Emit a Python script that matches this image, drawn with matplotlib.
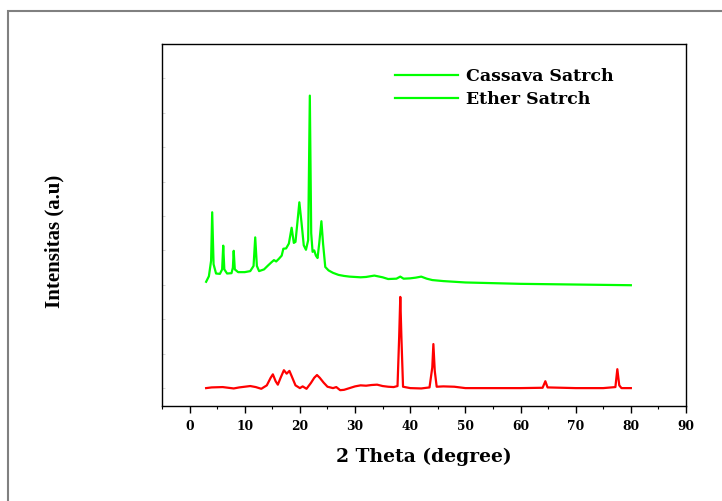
import matplotlib
matplotlib.use("Agg")
import matplotlib.pyplot as plt
from matplotlib.lines import Line2D
from matplotlib.patches import Rectangle

# green pattern
green_x = [3.0, 3.5, 3.9, 4.1, 4.35, 4.8, 5.5, 5.9, 6.1, 6.3, 6.8, 7.6, 7.85, 8.0, 8.2, 8.8,
           10, 11, 11.6, 11.9, 12.2, 12.6, 13.5, 14.2, 14.8, 15.3, 15.7, 16.2, 16.7, 17.0,
           17.5, 18.0, 18.5, 18.9, 19.2, 19.6, 19.9, 20.3, 20.7, 21.1, 21.5, 21.8, 22.05,
           22.3, 22.6, 22.9, 23.2, 23.5, 23.9, 24.2, 24.6, 25.2, 26, 27, 28, 29, 30, 31, 32,
           33.5, 35, 36, 37.5, 38.2, 38.8, 40, 41, 42, 43, 44, 46, 50, 55, 60, 65, 70, 75, 80]
green_y = [3090, 3250, 3700, 5110, 3600, 3330, 3320, 3450, 4140, 3450, 3330, 3340, 3500, 3990,
           3450, 3370, 3370, 3400, 3550, 4380, 3550, 3400, 3450, 3560, 3650, 3720, 3680, 3760,
           3850, 4050, 4060, 4200, 4660, 4220, 4250, 4900, 5400, 4800, 4150, 4020, 4300, 8500,
           4500, 3960, 4000, 3850, 3780, 4200, 4850, 4200, 3520, 3420, 3350, 3290, 3260, 3240,
           3230, 3220, 3230, 3270, 3220, 3170, 3180, 3240, 3180, 3190, 3210, 3240, 3180, 3140,
           3110, 3070, 3050, 3030, 3020, 3010, 3000, 2990]

# red pattern
red_x = [3.0, 4, 6, 8, 9, 10, 11, 12, 13, 14, 14.7, 15.1, 15.6, 16.0, 16.5, 17.1, 17.6, 18.1,
         18.5, 19.2, 20, 20.5, 21.2, 22, 22.6, 23.1, 23.6, 24.3, 25, 26, 26.6, 27.3, 28, 29,
         30, 31, 32, 33, 34, 35, 36, 37, 37.7, 38.0, 38.2, 38.4, 38.7, 40, 42, 43.5, 44.0,
         44.2, 44.45, 44.8, 46, 48, 50, 55, 60, 64, 64.5, 64.9, 70, 75, 77.2, 77.55, 77.9,
         78.3, 80]
red_y = [0, 20, 30, -10, 20, 40, 60, 30, -20, 80, 300, 400, 200, 100, 300, 520, 420, 500, 350,
         80, 0, 50, -20, 150, 300, 380, 300, 160, 40, 0, 30, -60, -50, 0, 50, 80, 70, 90, 100,
         60, 40, 30, 60, 1500, 2650, 1500, 40, 0, -10, 20, 600, 1280, 500, 40, 50, 40, 0, 0, 0,
         10, 200, 20, 0, 0, 30, 550, 80, 0, 0]

legend_labels = ["Cassava Satrch", "Ether Satrch"]

wide = "DejaVu Serif"        # the picture's lettering is stretched sideways
narrow = "Liberation Serif"

fig = plt.figure(figsize=(7.22, 5.01), dpi=100)
# grey frame around the picture
fig.patches.append(Rectangle((8 / 722, -0.1), 1.2, (501 - 11) / 501 + 0.1,
                             transform=fig.transFigure, fill=False,
                             edgecolor="#808080", linewidth=1.5))

ax = fig.add_axes([162 / 722, 95 / 501, 524 / 722, 362 / 501])
ax.plot(green_x, green_y, color="#00ff00", lw=1.6)
ax.plot(red_x, red_y, color="#ff0000", lw=1.6)

ax.set_xlim(-5, 90)
ax.set_ylim(-520, 10000)
ax.set_xticks(range(0, 91, 10))
ax.set_xticks(range(-5, 91, 10), minor=True)
ax.set_yticks(range(0, 9001, 1000))
ax.tick_params(axis="x", which="major", length=5, width=1, pad=5)
ax.tick_params(axis="x", which="minor", length=2.5, width=0.8)
ax.tick_params(axis="y", direction="in", length=2, width=0.6, color="#d0d0d0",
               labelleft=False)
for lab in ax.get_xticklabels():
    lab.set_fontfamily(wide)
    lab.set_fontweight("bold")
    lab.set_fontsize(8.8)
for s in ["top", "right", "left", "bottom"]:
    ax.spines[s].set_linewidth(1.0)

ax.set_xlabel("2 Theta (degree)", fontfamily=wide, fontweight="bold", fontsize=13.5,
              labelpad=11)
ax.set_ylabel("Intensitas (a.u)", fontfamily=narrow, fontweight="bold", fontsize=15)
ax.yaxis.set_label_coords(-0.186, 0.456)

handles = [Line2D([], [], color="#00ff00", lw=1.6) for _ in legend_labels]
ax.legend(handles, legend_labels, loc="upper left", bbox_to_anchor=(0.445, 0.933),
          frameon=False, borderpad=0, borderaxespad=0, handlelength=3.6,
          handletextpad=0.5, labelspacing=0.33,
          prop={"family": wide, "weight": "bold", "size": 12.5})

fig.savefig("out.png", dpi=100)
